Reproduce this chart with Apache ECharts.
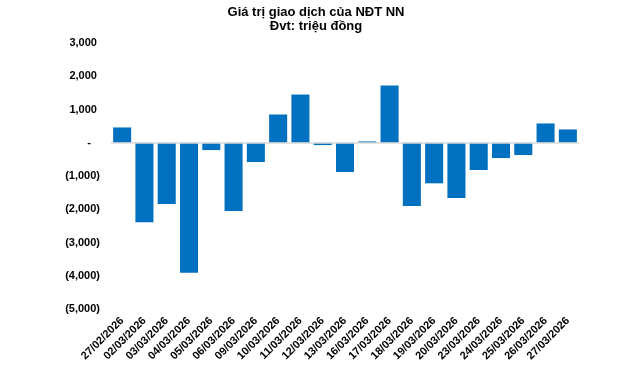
<!DOCTYPE html>
<html><head><meta charset="utf-8">
<script src="https://cdn.jsdelivr.net/npm/echarts@6/dist/echarts.min.js"></script>
<style>html,body{margin:0;padding:0;background:#fff}#c{width:640px;height:370px}</style>
</head><body><div id="c"></div>
<script>
var categories = ['27/02/2026','02/03/2026','03/03/2026','04/03/2026','05/03/2026','06/03/2026','09/03/2026','10/03/2026','11/03/2026','12/03/2026','13/03/2026','16/03/2026','17/03/2026','18/03/2026','19/03/2026','20/03/2026','23/03/2026','24/03/2026','25/03/2026','26/03/2026','27/03/2026'];
var values = [460,-2390,-1840,-3910,-220,-2050,-580,850,1450,-70,-880,40,1720,-1900,-1220,-1660,-820,-460,-370,580,400];
var titleText = 'Giá trị giao dịch của NĐT NN\nĐvt: triệu đồng';

function fmt(v){
  if (v === 0) return '-   ';
  var s = Math.abs(v).toLocaleString('en-US');
  return v < 0 ? '(' + s + ')' : s + ' ';
}
var chart = echarts.init(document.getElementById('c'), null, {renderer:'canvas'});
chart.setOption({
  animation:false,
  textStyle:{fontFamily:'Liberation Sans, Arial, sans-serif'},
  title:{text:titleText,left:311,textAlign:'center',top:0,textStyle:{fontSize:13,fontWeight:'bold',color:'#000',lineHeight:14,fontFamily:'Liberation Sans, Arial, sans-serif'}},
  grid:{left:111,right:61,top:43,bottom:61},
  xAxis:{type:'category',data:categories,axisLine:{show:false,onZero:false},axisTick:{show:false},
    axisLabel:{rotate:45,interval:0,fontSize:11,fontWeight:'bold',color:'#000',margin:10}},
  yAxis:{type:'value',min:-5000,max:3000,interval:1000,splitLine:{show:false},axisLine:{show:false},axisTick:{show:false},
    axisLabel:{formatter:fmt,fontSize:11,fontWeight:'bold',color:'#000',margin:11}},
  series:[{type:'bar',data:values,barCategoryGap:'19%',itemStyle:{color:'#0070C0'},
    markLine:{silent:true,symbol:'none',label:{show:false},lineStyle:{color:'#D9D9D9',type:'solid',width:1.5},data:[{yAxis:0}]}}]
});
</script></body></html>
